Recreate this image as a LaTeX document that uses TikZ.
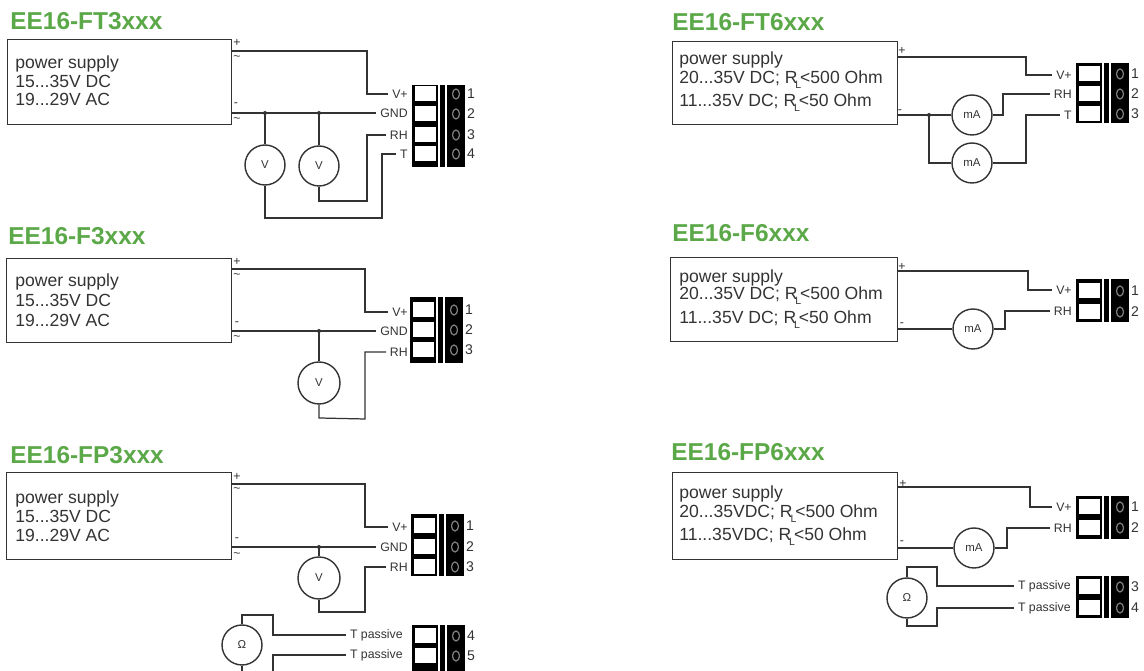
\documentclass[tikz,border=0pt]{standalone}
\usepackage{fontspec}
\setmainfont{Liberation Sans}
\definecolor{titlegreen}{HTML}{5BA848}
\definecolor{inkgray}{HTML}{333333}
\tikzset{
	wire/.style={draw=inkgray,line width=0.7pt},
	title/.style={anchor=west,inner sep=0pt,text=titlegreen,font=\fontsize{13.9}{15}\selectfont\bfseries},
	supply/.style={draw=inkgray,line width=0.8pt,anchor=north west,inner sep=0pt},
	supplytext/.style={anchor=west,inner sep=0pt,align=left,text=inkgray,font=\fontsize{10}{11.4}\selectfont},
	pol/.style={inner sep=0pt,text=inkgray,font=\fontsize{7}{8}\selectfont},
	pin/.style={anchor=east,inner sep=2pt,xshift=2pt,text=inkgray,font=\fontsize{7}{8}\selectfont},
	meter/.style={circle,draw=inkgray,line width=0.8pt,minimum size=0.8cm,inner sep=0pt,text=inkgray,font=\fontsize{6.5}{8}\selectfont},
	pinno/.style={inner sep=0pt,text=inkgray,font=\fontsize{8}{9}\selectfont},
}
% name, left edge, top, bottom, rows
\newcommand{\terminal}[5]{
	\fill[black] (#2, #3) rectangle (#2+26, #4);
	\fill[black] (#2+28, #3) rectangle (#2+33, #4);
	\fill[black] (#2+35, #3) rectangle (#2+53, #4);
	\foreach \y/\n in {#5} {
		\fill[white] (#2+2.5, \y-7.5) rectangle (#2+24, \y+7.5);
		\draw[gray,line width=0.7pt] (#2+44, \y) ellipse [x radius=0.07cm,y radius=0.1cm];
		\node[pinno] (#1n\n) at (#2+59, \y) {\n};
	}
}
\newcommand{\rl}{R\kern-1.2pt\raisebox{-2.8pt}{\fontsize{6}{6}\selectfont L}\kern-0.6pt}
\begin{document}
\begin{tikzpicture}[x=0.02cm,y=-0.02cm]
	\useasboundingbox (0,0) rectangle (1144,671);

	% EE16-FT3xxx
	\node[title] (ft3title) at (10,21) {EE16-FT3xxx};
	\node[supply,minimum width=4.48cm,minimum height=1.7cm] (ft3box) at (7,39) {};
	\node[supplytext] (ft3text) at (15,81) {power supply\\[-0.6pt]15...35V DC\\[-1.2pt]19...29V AC};
	\node[pol] (ft3a) at (237,43) {+};
	\node[pol] (ft3b) at (237,58) {\textasciitilde};
	\node[pol] (ft3c) at (236,105) {-};
	\node[pol] (ft3d) at (237,120) {\textasciitilde};
	\node[pin] (ft3vp) at (408,94) {V+};
	\node[pin] (ft3gnd) at (408,113) {GND};
	\node[pin] (ft3rh) at (408,135) {RH};
	\node[pin] (ft3t) at (408,154) {T};
	\terminal{ft3}{412}{85}{167}{94/1,114/2,135/3,154/4}
	\node[meter] (ft3m1) at (265,165) {V};
	\node[meter] (ft3m2) at (319,166) {V};
	\coordinate (ft3plus) at (231,51);
	\coordinate (ft3minus) at (231,113);
	\coordinate (ft3j1) at (265,113);
	\coordinate (ft3j2) at (319,113);
	\draw[wire] (ft3plus) -- (367,51) -- (367,94) -- (ft3vp.west);
	\draw[wire] (ft3minus) -- (ft3gnd.west);
	\draw[wire] (ft3j1) -- (ft3m1.north);
	\draw[wire] (ft3j2) -- (ft3m2.north);
	\draw[wire] (ft3m1.south) -- (265,218) -- (382,218) -- (382,154) -- (ft3t.west);
	\draw[wire] (ft3m2.south) -- (319,201) -- (367,201) -- (367,135) -- (ft3rh.west);
	\fill[inkgray] (ft3j1) circle [radius=0.4mm];
	\fill[inkgray] (ft3j2) circle [radius=0.4mm];

	% EE16-F3xxx
	\node[title] (f3title) at (8,236) {EE16-F3xxx};
	\node[supply,minimum width=4.5cm,minimum height=1.68cm] (f3box) at (6,258) {};
	\node[supplytext] (f3text) at (15,300) {power supply\\[0pt]15...35V DC\\[0pt]19...29V AC};
	\node[pol] (f3a) at (237,262) {+};
	\node[pol] (f3b) at (237,276) {\textasciitilde};
	\node[pol] (f3c) at (237,324) {-};
	\node[pol] (f3d) at (237,338) {\textasciitilde};
	\node[pin] (f3vp) at (408,312) {V+};
	\node[pin] (f3gnd) at (408,331) {GND};
	\node[pin] (f3rh) at (408,352) {RH};
	\terminal{f3}{410}{297}{363}{310/1,330/2,350/3}
	\node[meter,minimum size=0.84cm] (f3m1) at (319,383) {V};
	\coordinate (f3plus) at (231,269);
	\coordinate (f3minus) at (231,331);
	\coordinate (f3j1) at (319,331);
	\draw[wire] (f3plus) -- (365,269) -- (365,312) -- (f3vp.west);
	\draw[wire] (f3minus) -- (f3gnd.west);
	\draw[wire] (f3j1) -- (f3m1.north);
	\draw[wire] (f3m1.south) -- (319,418) -- (365,419) -- (365,352) -- (f3rh.west);
	\fill[inkgray] (f3j1) circle [radius=0.4mm];

	% EE16-FP3xxx
	\node[title] (fp3title) at (10,455) {EE16-FP3xxx};
	\node[supply,minimum width=4.5cm,minimum height=1.74cm] (fp3box) at (6,472) {};
	\node[supplytext] (fp3text) at (15,516) {power supply\\[-0.2pt]15...35V DC\\[-0.8pt]19...29V AC};
	\node[pol] (fp3a) at (237,477) {+};
	\node[pol] (fp3b) at (237,490) {\textasciitilde};
	\node[pol] (fp3c) at (237,540) {-};
	\node[pol] (fp3d) at (237,555) {\textasciitilde};
	\node[pin] (fp3vp) at (408,527) {V+};
	\node[pin] (fp3gnd) at (408,547) {GND};
	\node[pin] (fp3rh) at (408,567) {RH};
	\node[pin] (fp3ta) at (403,635) {T passive};
	\node[pin] (fp3tb) at (403,655) {T passive};
	\terminal{fp3}{411}{514}{576}{526/1,547/2,567/3}
	\terminal{fp3}{412}{625}{671}{636/4,656/5}
	\node[meter,minimum size=0.84cm] (fp3m1) at (319,578) {V};
	\node[meter] (fp3m2) at (242,645) {Ω};
	\coordinate (fp3plus) at (231,484);
	\coordinate (fp3minus) at (231,547);
	\coordinate (fp3j1) at (319,547);
	\coordinate (fp3end1) at (242,671);
	\coordinate (fp3end2) at (273,671);
	\draw[wire] (fp3plus) -- (365,484) -- (365,527) -- (fp3vp.west);
	\draw[wire] (fp3minus) -- (fp3gnd.west);
	\draw[wire] (fp3j1) -- (fp3m1.north);
	\draw[wire] (fp3m1.south) -- (319,612) -- (365,612) -- (365,567) -- (fp3rh.west);
	\draw[wire] (fp3m2.north) -- (242,615) -- (273,615) -- (273,635) -- (fp3ta.west);
	\draw[wire] (fp3tb.west) -- (273,655) -- (fp3end2);
	\draw[wire] (fp3m2.south) -- (fp3end1);
	\fill[inkgray] (fp3j1) circle [radius=0.4mm];

	% EE16-FT6xxx
	\node[title] (ft6title) at (672,22) {EE16-FT6xxx};
	\node[supply,minimum width=4.5cm,minimum height=1.66cm] (ft6box) at (672,41) {};
	\node[supplytext] (ft6text) at (679,82) {power supply\\[-0.6pt]20...35V DC; \rl<500 Ohm\\[1.6pt]11...35V DC; \rl<50 Ohm};
	\node[pol] (ft6a) at (902,51) {+};
	\node[pol] (ft6c) at (900,112) {-};
	\node[pin] (ft6vp) at (1072,75) {V+};
	\node[pin] (ft6rh) at (1072,94) {RH};
	\node[pin] (ft6t) at (1072,115) {T};
	\terminal{ft6}{1076}{63}{123}{74/1,94/2,114/3}
	\node[meter] (ft6m1) at (972,115) {mA};
	\node[meter] (ft6m2) at (972,163) {mA};
	\coordinate (ft6plus) at (897,57);
	\coordinate (ft6minus) at (897,115);
	\coordinate (ft6j1) at (929,115);
	\draw[wire] (ft6plus) -- (1026,57) -- (1026,75) -- (ft6vp.west);
	\draw[wire] (ft6minus) -- (ft6m1.west);
	\draw[wire] (ft6j1) -- (929,163) -- (ft6m2.west);
	\draw[wire] (ft6m1.east) -- (1003,115) -- (1003,94) -- (ft6rh.west);
	\draw[wire] (ft6m2.east) -- (1026,163) -- (1026,115) -- (ft6t.west);
	\fill[inkgray] (ft6j1) circle [radius=0.4mm];

	% EE16-F6xxx
	\node[title] (f6title) at (672,233) {EE16-F6xxx};
	\node[supply,minimum width=4.54cm,minimum height=1.68cm] (f6box) at (670,257) {};
	\node[supplytext] (f6text) at (679,299) {power supply\\[-1.4pt]20...35V DC; \rl<500 Ohm\\[2.2pt]11...35V DC; \rl<50 Ohm};
	\node[pol] (f6a) at (902,267) {+};
	\node[pol] (f6c) at (902,325) {-};
	\node[pin] (f6vp) at (1072,290) {V+};
	\node[pin] (f6rh) at (1072,311) {RH};
	\terminal{f6}{1076}{279}{322}{291/1,312/2}
	\node[meter] (f6m1) at (973,329) {mA};
	\coordinate (f6plus) at (897,271);
	\coordinate (f6minus) at (897,329);
	\draw[wire] (f6plus) -- (1028,271) -- (1028,290) -- (f6vp.west);
	\draw[wire] (f6minus) -- (f6m1.west);
	\draw[wire] (f6m1.east) -- (1005,329) -- (1005,311) -- (f6rh.west);

	% EE16-FP6xxx
	\node[title] (fp6title) at (671,452) {EE16-FP6xxx};
	\node[supply,minimum width=4.5cm,minimum height=1.74cm] (fp6box) at (672,472) {};
	\node[supplytext] (fp6text) at (679,516) {power supply\\[-0.6pt]20...35VDC; \rl<500 Ohm\\[1.6pt]11...35VDC; \rl<50 Ohm};
	\node[pol] (fp6a) at (903,484) {+};
	\node[pol] (fp6c) at (902,543) {-};
	\node[pin] (fp6vp) at (1072,507) {V+};
	\node[pin] (fp6rh) at (1072,528) {RH};
	\node[pin] (fp6ta) at (1071,586) {T passive};
	\node[pin] (fp6tb) at (1071,608) {T passive};
	\terminal{fp6}{1076}{496}{539}{507/1,528/2}
	\terminal{fp6}{1076}{576}{618}{587/3,608/4}
	\node[meter] (fp6m1) at (974,548) {mA};
	\node[meter] (fp6m2) at (907,598) {Ω};
	\coordinate (fp6plus) at (897,487);
	\coordinate (fp6minus) at (897,548);
	\draw[wire] (fp6plus) -- (1030,487) -- (1030,507) -- (fp6vp.west);
	\draw[wire] (fp6minus) -- (fp6m1.west);
	\draw[wire] (fp6m1.east) -- (1007,548) -- (1007,528) -- (fp6rh.west);
	\draw[wire] (fp6m2.north) -- (907,567) -- (937,567) -- (937,586) -- (fp6ta.west);
	\draw[wire] (fp6m2.south) -- (907,626) -- (937,626) -- (937,608) -- (fp6tb.west);
\end{tikzpicture}
\end{document}
